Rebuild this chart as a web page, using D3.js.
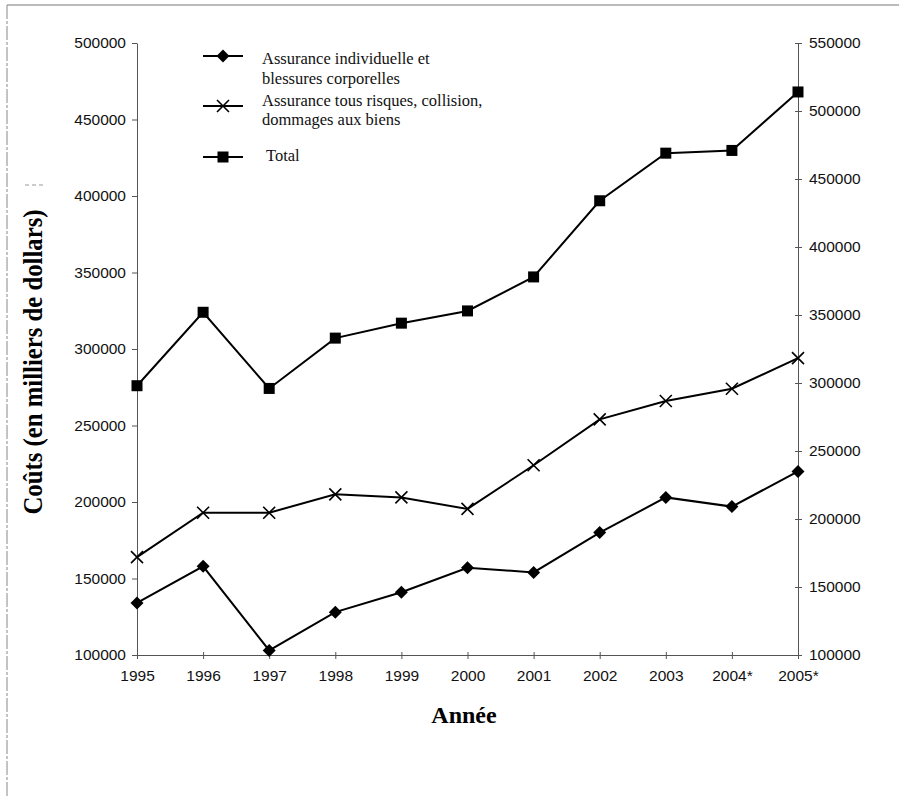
<!DOCTYPE html>
<html><head><meta charset="utf-8">
<script src="https://cdn.jsdelivr.net/npm/d3@7"></script>
<style>body{margin:0;background:#fff}svg{display:block}</style>
</head><body>
<script>
const years = ["1995","1996","1997","1998","1999","2000","2001","2002","2003","2004*","2005*"];
const individuelle = [134000,158000,103000,128000,141000,157000,154000,180000,203000,197000,220000];
const tousRisques = [164000,193000,193000,205000,203000,195500,224000,254000,266000,274000,294000];
const total = [298000,352000,296000,333000,344000,353000,378000,434000,469000,471000,514000];
const leftTicks = [100000,150000,200000,250000,300000,350000,400000,450000,500000];
const rightTicks = [100000,150000,200000,250000,300000,350000,400000,450000,500000,550000];
const legendLabels = [["Assurance individuelle et","blessures corporelles"],["Assurance tous risques, collision,","dommages aux biens"],["Total"]];

const W=899,H=798;
const svg=d3.select("body").append("svg").attr("width",W).attr("height",H);

// frame
svg.append("line").attr("x1",7).attr("x2",W).attr("y1",5).attr("y2",5).attr("stroke","#777").attr("stroke-width",1);
svg.append("line").attr("x1",7).attr("x2",7).attr("y1",5).attr("y2",H).attr("stroke","#888").attr("stroke-width",1).attr("stroke-dasharray","14,2,3,2");
svg.append("line").attr("x1",25).attr("x2",45).attr("y1",185).attr("y2",185).attr("stroke","#999").attr("stroke-dasharray","4,3");

const x=d3.scalePoint().domain(years).range([137,798]);
const yL=d3.scaleLinear().domain([100000,500000]).range([655,43]);
const yR=d3.scaleLinear().domain([100000,550000]).range([655,43]);

const tickFont="'Liberation Sans', Arial, sans-serif";

const gL=svg.append("g").attr("transform","translate(137,0)")
  .call(d3.axisLeft(yL).tickValues(leftTicks).tickFormat(d3.format("d")).tickSizeInner(5).tickSizeOuter(0).tickPadding(6));
const gR=svg.append("g").attr("transform","translate(798,0)")
  .call(d3.axisRight(yR).tickValues(rightTicks).tickFormat(d3.format("d")).tickSizeInner(4).tickSizeOuter(0).tickPadding(7));
const gB=svg.append("g").attr("transform","translate(0,655)")
  .call(d3.axisBottom(x).tickSizeInner(4).tickSizeOuter(0).tickPadding(11));
gB.selectAll(".tick line").attr("y1",-3);
gR.selectAll(".tick line").attr("x1",-3);

[gL,gR,gB].forEach(g=>{
  g.select(".domain").attr("stroke","#555").attr("stroke-width",1);
  g.selectAll(".tick line").attr("stroke","#555");
  g.selectAll("text").attr("font-family",tickFont).attr("font-size",15.5).attr("fill","#111");
});

svg.append("text").attr("transform","translate(42,362) rotate(-90)")
  .attr("text-anchor","middle").attr("font-family","'Liberation Serif','Times New Roman',serif")
  .attr("font-weight","bold").attr("font-size",27).attr("textLength",305).attr("lengthAdjust","spacingAndGlyphs")
  .text("Coûts (en milliers de dollars)");
svg.append("text").attr("x",464).attr("y",723)
  .attr("text-anchor","middle").attr("font-family","'Liberation Serif','Times New Roman',serif")
  .attr("font-weight","bold").attr("font-size",24).text("Année");

const series=[
  {vals:individuelle,scale:yL,mk:"diamond"},
  {vals:tousRisques,scale:yL,mk:"x"},
  {vals:total,scale:yR,mk:"square"}
];

function marker(g,type,cx,cy){
  if(type==="diamond"){
    g.append("path").attr("d",`M${cx},${cy-6.5}L${cx+6.5},${cy}L${cx},${cy+6.5}L${cx-6.5},${cy}Z`).attr("fill","#000");
  } else if(type==="square"){
    g.append("rect").attr("x",cx-5.5).attr("y",cy-5.5).attr("width",11).attr("height",11).attr("fill","#000");
  } else {
    g.append("path").attr("d",`M${cx-6},${cy-6}L${cx+6},${cy+6}M${cx-6},${cy+6}L${cx+6},${cy-6}`).attr("stroke","#000").attr("stroke-width",1.6).attr("fill","none");
  }
}

series.forEach(s=>{
  const line=d3.line().x((d,i)=>x(years[i])).y(d=>s.scale(d));
  svg.append("path").datum(s.vals).attr("d",line).attr("fill","none").attr("stroke","#000").attr("stroke-width",2);
  const g=svg.append("g");
  s.vals.forEach((v,i)=>marker(g,s.mk,x(years[i]),s.scale(v)));
});

const legY=[56,106,157];
const legTextY=[[64,84],[106,125],[161]];
const legX=[262,262,266];
const legFont="'Liberation Serif','Times New Roman',serif";
series.forEach((s,i)=>{
  const g=svg.append("g");
  g.append("line").attr("x1",203).attr("x2",243).attr("y1",legY[i]).attr("y2",legY[i]).attr("stroke","#000").attr("stroke-width",2);
  marker(g,s.mk,223,legY[i]);
  legendLabels[i].forEach((t,j)=>{
    svg.append("text").attr("x",legX[i]).attr("y",legTextY[i][j]).attr("font-family",legFont).attr("font-size",16.5).attr("fill","#111").text(t);
  });
});
</script>
</body></html>
